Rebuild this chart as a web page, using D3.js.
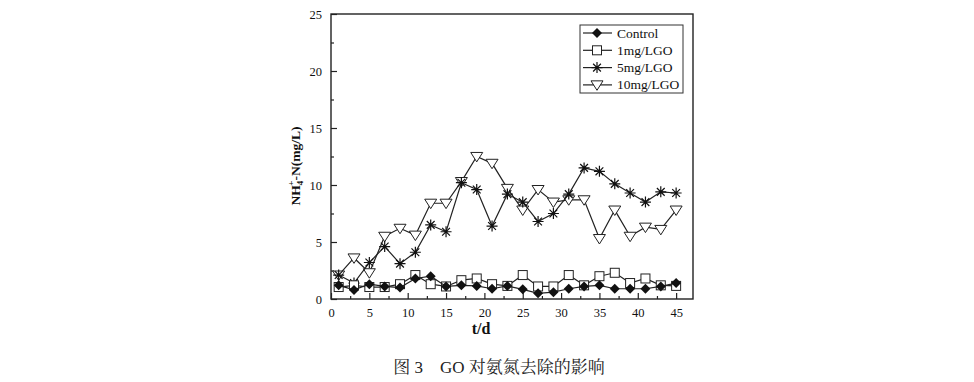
<!DOCTYPE html>
<html><head><meta charset="utf-8">
<script src="https://cdn.jsdelivr.net/npm/d3@7"></script>
<style>body{margin:0;background:#fff}svg{display:block}</style>
</head><body>
<svg id="c" width="974" height="382"></svg>
<script>
const days = [1,3,5,7,9,11,13,15,17,19,21,23,25,27,29,31,33,35,37,39,41,43,45];
const control = [1.2,0.8,1.3,1.1,1.0,1.8,2.0,1.1,1.2,1.15,0.9,1.15,0.85,0.5,0.6,0.9,1.1,1.2,0.9,0.9,0.9,1.1,1.4];
const mg1 = [1.05,1.2,1.05,1.05,1.3,2.1,1.3,1.1,1.65,1.8,1.3,1.15,2.1,1.1,1.1,2.1,1.2,2.0,2.3,1.4,1.8,1.2,1.15];
const mg5 = [2.1,1.4,3.2,4.6,3.1,4.1,6.5,5.9,10.2,9.6,6.4,9.2,8.5,6.8,7.5,9.2,11.5,11.2,10.1,9.3,8.5,9.4,9.3];
const mg10 = [2.1,3.6,2.3,5.5,6.2,5.6,8.4,8.4,10.3,12.5,11.9,9.7,7.8,9.6,8.5,8.7,8.7,5.3,7.8,5.5,6.3,6.1,7.8];
const seriesNames = ["Control","1mg/LGO","5mg/LGO","10mg/LGO"];
const xTicks = [0,5,10,15,20,25,30,35,40,45];
const yTicks = [0,5,10,15,20,25];
const caption = "图 3　GO 对氨氮去除的影响";

const svg = d3.select("#c");
const L=331, R=693, T=14, B=299;
const x = d3.scaleLinear().domain([0,47.2]).range([L,R]);
const y = d3.scaleLinear().domain([0,25]).range([B,T]);
const font = "'Liberation Serif','Times New Roman',serif";

const gx = svg.append("g").attr("transform",`translate(0,${B})`)
  .call(d3.axisBottom(x).tickValues(xTicks).tickSize(-6).tickPadding(9).tickFormat(d3.format("d")));
const gxm = svg.append("g").attr("transform",`translate(0,${B})`)
  .call(d3.axisBottom(x).tickValues(d3.range(2.5,47,5)).tickSize(-3).tickFormat(""));
const gy = svg.append("g").attr("transform",`translate(${L},0)`)
  .call(d3.axisLeft(y).tickValues(yTicks).tickSize(-6).tickPadding(9).tickFormat(d3.format("d")));
const gym = svg.append("g").attr("transform",`translate(${L},0)`)
  .call(d3.axisLeft(y).tickValues(d3.range(2.5,25,5)).tickSize(-3).tickFormat(""));
[gx,gxm,gy,gym].forEach(g=>{
  g.select(".domain").remove();
  g.selectAll("line").attr("stroke","#222").attr("stroke-width",1.2);
  g.selectAll("text").attr("font-family",font).attr("font-size",12.5).attr("fill","#111");
});
svg.append("rect").attr("x",L).attr("y",T).attr("width",R-L).attr("height",B-T)
  .attr("fill","none").attr("stroke","#222").attr("stroke-width",1.4);

const line = d3.line().x((d,i)=>x(days[i])).y(d=>y(d));
const all = [control, mg1, mg5, mg10];
const drawOrder = [3,2,1,0];

function marker(g, k, cx, cy){
  if(k===0){
    const r=5;
    g.append("path").attr("d",`M${cx},${cy-r}L${cx+r},${cy}L${cx},${cy+r}L${cx-r},${cy}Z`).attr("fill","#111");
  } else if(k===1){
    g.append("rect").attr("x",cx-4.5).attr("y",cy-4.5).attr("width",9).attr("height",9)
     .attr("fill","#fff").attr("stroke","#222").attr("stroke-width",1);
  } else if(k===2){
    const r=5.5;
    const p=[];
    [0,45,90,135].forEach(a=>{const t=a*Math.PI/180;p.push(`M${cx-r*Math.cos(t)},${cy-r*Math.sin(t)}L${cx+r*Math.cos(t)},${cy+r*Math.sin(t)}`);});
    g.append("path").attr("d",p.join("")).attr("stroke","#111").attr("stroke-width",1.2).attr("fill","none");
  } else {
    const w=6, h=9;
    g.append("path").attr("d",`M${cx-w},${cy-h*0.45}L${cx+w},${cy-h*0.45}L${cx},${cy+h*0.6}Z`)
     .attr("fill","#fff").attr("stroke","#222").attr("stroke-width",1);
  }
}

drawOrder.forEach(k=>{
  const g = svg.append("g");
  g.append("path").datum(all[k]).attr("d",line).attr("fill","none").attr("stroke","#222").attr("stroke-width",1.2);
  all[k].forEach((v,i)=>marker(g,k,x(days[i]),y(v)));
});

const lg = svg.append("g");
lg.append("rect").attr("x",580).attr("y",25).attr("width",103).attr("height",68)
  .attr("fill","#fff").attr("stroke","#333").attr("stroke-width",1);
seriesNames.forEach((n,i)=>{
  const yy = 33 + i*17.3;
  lg.append("line").attr("x1",583).attr("x2",612).attr("y1",yy).attr("y2",yy).attr("stroke","#222").attr("stroke-width",1.2);
  marker(lg,i,597,yy);
  lg.append("text").attr("x",617).attr("y",yy+4.5).text(n)
    .attr("font-family",font).attr("font-size",13.5).attr("fill","#111");
});

svg.append("text").attr("x",481).attr("y",334).attr("text-anchor","middle")
  .attr("font-family",font).attr("font-size",16).attr("font-weight","bold").attr("fill","#111").text("t/d");
const yl = svg.append("text").attr("transform","translate(300,166) rotate(-90)").attr("text-anchor","middle")
  .attr("font-family",font).attr("font-size",13.5).attr("font-weight","bold").attr("fill","#111");
yl.append("tspan").text("NH");
yl.append("tspan").attr("font-size",9).attr("dy",3).text("4");
yl.append("tspan").attr("font-size",9).attr("dy",-9).attr("dx",-5).text("+");
yl.append("tspan").attr("dy",6).text("-N(mg/L)");

svg.append("text").attr("x",499).attr("y",373).attr("text-anchor","middle")
  .attr("font-family","'Liberation Serif','Noto Serif CJK SC','Noto Sans CJK SC',serif").attr("font-size",17).attr("fill","#222").text(caption);
</script>
</body></html>
